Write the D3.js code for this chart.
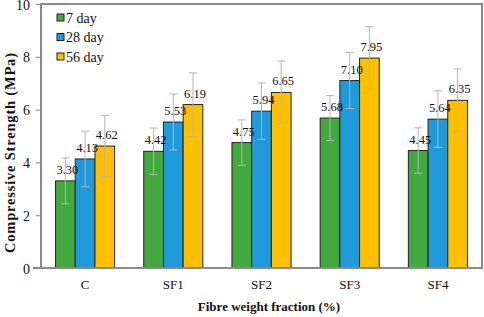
<!DOCTYPE html>
<html>
<head>
<meta charset="utf-8">
<script src="https://cdn.jsdelivr.net/npm/d3@7"></script>
<style>
  body { margin: 0; background: #fff; }
  svg text { font-family: "Liberation Serif", "Times New Roman", serif; fill: #111; }
</style>
</head>
<body>
<div id="container"></div>
<script>
// chart data
var categories = ["C", "SF1", "SF2", "SF3", "SF4"];
var seriesNames = ["7 day", "28 day", "56 day"];
var day7 = [3.30, 4.42, 4.75, 5.68, 4.45];
var day28 = [4.13, 5.53, 5.94, 7.10, 5.64];
var day56 = [4.62, 6.19, 6.65, 7.95, 6.35];
var err7 = [0.87, 0.88, 0.86, 0.85, 0.86];
var err28 = [1.05, 1.06, 1.07, 1.06, 1.07];
var err56 = [1.16, 1.20, 1.19, 1.19, 1.19];
var yTicks = [0, 2, 4, 6, 8, 10];
var colors = ["#43a83d", "#1f9bdc", "#ffc000"];

var serif = "Liberation Serif";
var width = 484, height = 317;
var margin = {top: 4, right: 2, bottom: 49, left: 41};
var w = width - margin.left - margin.right,
    h = height - margin.top - margin.bottom;

var series = [day7, day28, day56];
var errs = [err7, err28, err56];

var svg = d3.select("#container").append("svg")
  .attr("width", width)
  .attr("height", height)
  .attr("font-family", serif);

var g = svg.append("g")
  .attr("transform", "translate(" + margin.left + "," + margin.top + ")");

var x = d3.scaleBand().domain(categories).range([0, w]).paddingInner(0.33).paddingOuter(0.165);
var x1 = d3.scaleBand().domain(d3.range(seriesNames.length)).range([0, x.bandwidth()]);
var y = d3.scaleLinear().domain([0, 10]).range([h, 0]);

// y axis ticks and labels
var yAxis = g.append("g").call(d3.axisLeft(y).tickValues(yTicks).tickSize(5).tickPadding(6))
  .attr("font-family", serif).attr("font-size", 14);
yAxis.select(".domain").remove();
yAxis.selectAll("line").attr("stroke", "#888").attr("stroke-width", 1);
yAxis.selectAll("text").attr("dy", "0.36em");

// x axis labels
var xAxis = g.append("g").attr("transform", "translate(0," + h + ")")
  .call(d3.axisBottom(x).tickSize(0).tickPadding(12))
  .attr("font-family", serif).attr("font-size", 13);
xAxis.select(".domain").remove();

// bars
var groups = g.selectAll(".grp").data(categories).enter().append("g")
  .attr("class", "grp")
  .attr("transform", function(d) { return "translate(" + x(d) + ",0)"; });

series.forEach(function(vals, s) {
  groups.append("rect")
    .attr("x", x1(s))
    .attr("y", function(d, i) { return y(vals[i]); })
    .attr("width", x1.bandwidth())
    .attr("height", function(d, i) { return h - y(vals[i]); })
    .attr("fill", colors[s])
    .attr("stroke", "#222")
    .attr("stroke-width", 1);
});

// value labels
series.forEach(function(vals, s) {
  groups.append("text")
    .attr("x", x1(s) + x1.bandwidth() / 2 + 2)
    .attr("y", function(d, i) { return y(vals[i]) - 7; })
    .attr("text-anchor", "middle")
    .attr("font-size", 12.5)
    .text(function(d, i) { return vals[i].toFixed(2); });
});

// error bars
series.forEach(function(vals, s) {
  var cx = x1(s) + x1.bandwidth() / 2;
  var e = groups.append("g").attr("stroke", "#b5b5b5").attr("stroke-width", 1);
  e.append("line")
    .attr("x1", cx).attr("x2", cx)
    .attr("y1", function(d, i) { return y(vals[i] + errs[s][i]); })
    .attr("y2", function(d, i) { return y(vals[i] - errs[s][i]); });
  e.append("line")
    .attr("x1", cx - 4).attr("x2", cx + 4)
    .attr("y1", function(d, i) { return y(vals[i] + errs[s][i]); })
    .attr("y2", function(d, i) { return y(vals[i] + errs[s][i]); });
  e.append("line")
    .attr("x1", cx - 4).attr("x2", cx + 4)
    .attr("y1", function(d, i) { return y(vals[i] - errs[s][i]); })
    .attr("y2", function(d, i) { return y(vals[i] - errs[s][i]); });
});

// frame
g.append("rect")
  .attr("x", 0).attr("y", 0).attr("width", w).attr("height", h)
  .attr("fill", "none").attr("stroke", "#8a8a8a").attr("stroke-width", 2);
g.append("line")
  .attr("x1", -8).attr("x2", 0).attr("y1", h).attr("y2", h)
  .attr("stroke", "#8a8a8a").attr("stroke-width", 2);

// legend
var legend = g.selectAll(".legend").data(seriesNames).enter().append("g")
  .attr("class", "legend")
  .attr("transform", function(d, i) { return "translate(16," + (10 + i * 19.5) + ")"; });
legend.append("rect")
  .attr("width", 7).attr("height", 7)
  .attr("fill", function(d, i) { return colors[i]; })
  .attr("stroke", "#222").attr("stroke-width", 1);
legend.append("text")
  .attr("x", 9).attr("y", 4).attr("dy", ".35em")
  .attr("font-size", 14)
  .text(function(d) { return d; });

// axis titles
svg.append("text")
  .attr("transform", "translate(15,153) rotate(-90)")
  .attr("text-anchor", "middle")
  .attr("font-size", 14.5).attr("font-weight", "bold")
  .attr("textLength", 200).attr("lengthAdjust", "spacing")
  .text("Compressive Strength (MPa)");

svg.append("text")
  .attr("x", 269)
  .attr("y", 311)
  .attr("text-anchor", "middle")
  .attr("font-size", 13).attr("font-weight", "bold")
  .text("Fibre weight fraction (%)");
</script>
</body>
</html>
